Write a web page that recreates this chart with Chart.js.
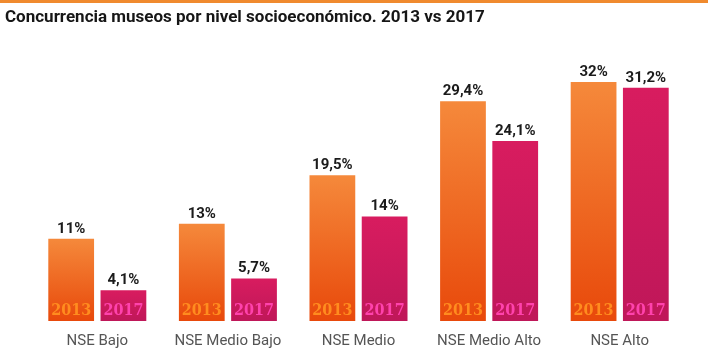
<!DOCTYPE html>
<html>
<head>
<meta charset="utf-8">
<script src="https://cdn.jsdelivr.net/npm/chart.js@4"></script>
<style>
  html, body { margin: 0; padding: 0; background: #fff; overflow: hidden; }
  .wrap { width: 708px; height: 346px; border-top: 3px solid #f08a2e; }
  canvas { display: block; }
</style>
</head>
<body>
<div class="wrap"><canvas id="museos" width="708" height="346"></canvas></div>
<script>
const categories = ['NSE Bajo', 'NSE Medio Bajo', 'NSE Medio', 'NSE Medio Alto', 'NSE Alto'];
const years = ['2013', '2017'];
const values2013 = [11, 13, 19.5, 29.4, 32];
const values2017 = [4.1, 5.7, 14, 24.1, 31.2];
const chartTitle = 'Concurrencia museos por nivel socioeconómico. 2013 vs 2017';

const formatPct = (v) => String(v).replace('.', ',') + '%';

// vertical gradient spanning each bar from its top down to zero
function barFill(top, bottom) {
  return (context) => {
    const chart = context.chart;
    if (!chart.chartArea || context.raw == null) return bottom;
    const y = chart.scales.y;
    const g = chart.ctx.createLinearGradient(0, y.getPixelForValue(context.raw), 0, y.getPixelForValue(0));
    g.addColorStop(0, top);
    g.addColorStop(1, bottom);
    return g;
  };
}

const yearColors = ['#ff8c1f', '#ff42ad'];

// title at the far left, squeezed a little to keep its width
const leftTitle = {
  id: 'leftTitle',
  afterDraw(chart) {
    const ctx = chart.ctx;
    ctx.save();
    ctx.fillStyle = '#161616';
    ctx.font = 'bold 17px Roboto';
    ctx.textAlign = 'left';
    ctx.textBaseline = 'middle';
    const w = ctx.measureText(chartTitle).width;
    const sx = Math.min(1, 503 / w);
    ctx.translate(5, 15);
    ctx.scale(sx, 1);
    ctx.fillText(chartTitle, 0, 0);
    ctx.restore();
  }
};

const barLabels = {
  id: 'barLabels',
  afterDatasetsDraw(chart) {
    const ctx = chart.ctx;
    ctx.save();
    ctx.textAlign = 'center';
    ctx.textBaseline = 'alphabetic';
    chart.data.datasets.forEach((ds, i) => {
      const meta = chart.getDatasetMeta(i);
      meta.data.forEach((bar, j) => {
        ctx.fillStyle = '#1b1b1b';
        ctx.font = 'bold 15px Roboto';
        ctx.fillText(formatPct(ds.data[j]), bar.x, bar.y - 6);

        ctx.fillStyle = yearColors[i];
        ctx.font = 'bold 16px "DejaVu Serif Condensed", "DejaVu Serif"';
        ctx.fillText(years[i], bar.x, bar.base - 6, 42);
      });
    });
    ctx.restore();
  }
};

new Chart(document.getElementById('museos'), {
  type: 'bar',
  data: {
    labels: categories,
    datasets: [
      { label: years[0], data: values2013, backgroundColor: barFill('#f5893b', '#e8490b') },
      { label: years[1], data: values2017, backgroundColor: barFill('#d81c5f', '#bf1759') },
    ],
  },
  options: {
    responsive: false,
    animation: false,
    devicePixelRatio: 1,
    layout: { padding: { left: 32, right: 23, top: 49, bottom: -12 } },
    datasets: { bar: { categoryPercentage: 0.8, barPercentage: 0.876 } },
    plugins: {
      legend: { display: false },
      tooltip: { enabled: false },
      title: { display: false },
    },
    scales: {
      x: {
        grid: { display: false, drawTicks: false },
        border: { display: false },
        ticks: { color: '#555', font: { family: 'Roboto', size: 15 }, padding: 11, maxRotation: 0 },
      },
      y: { display: false, min: 0, max: 36 },
    },
  },
  plugins: [barLabels, leftTitle],
});
</script>
</body>
</html>
